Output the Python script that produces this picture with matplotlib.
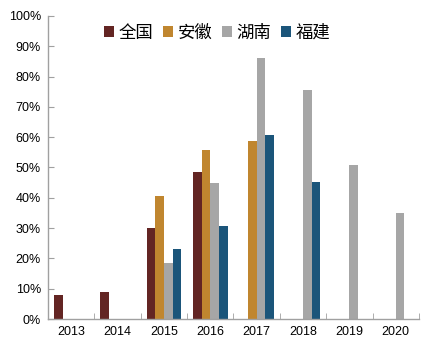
import matplotlib
matplotlib.use("Agg")
import matplotlib.pyplot as plt
import numpy as np

nan = np.nan
years = ["2013", "2014", "2015", "2016", "2017", "2018", "2019", "2020"]
series_names = ["全国", "安徽", "湖南", "福建"]
quanguo = [8, 9, 30, 48.6, nan, nan, nan, nan]
anhui = [nan, nan, 40.5, 55.8, 58.6, nan, nan, nan]
hunan = [nan, nan, 18.6, 44.8, 86, 75.5, 50.8, 34.9]
fujian = [nan, nan, 23, 30.7, 60.8, 45.1, nan, nan]
yticks = [0, 10, 20, 30, 40, 50, 60, 70, 80, 90, 100]

colors = ["#632523", "#C0862F", "#A6A6A6", "#1B557A"]

plt.rcParams['font.family'] = ['Liberation Sans', 'Noto Sans CJK SC', 'DejaVu Sans']

fig = plt.figure(figsize=(4.27, 3.46), dpi=100)
ax = fig.add_axes([0.1124, 0.078, 0.981 - 0.1124, 0.954 - 0.078])

x = np.arange(len(years))
w = 0.185
offsets = [-0.275, -0.09, 0.095, 0.28]
handles = []
for vals, off, c, name in zip([quanguo, anhui, hunan, fujian], offsets, colors, series_names):
    b = ax.bar(x + off, vals, width=w, color=c, label=name, linewidth=0)
    handles.append(b)

ax.set_xlim(-0.5, len(years) - 0.5)
ax.set_ylim(0, 100)
ax.set_yticks(yticks)
ax.set_yticklabels([f"{v}%" for v in yticks], fontsize=9)
ax.set_xticks(x)
ax.set_xticklabels(years, fontsize=9)
ax.set_xticks(np.arange(-0.5, len(years), 1), minor=True)
ax.tick_params(axis='x', which='major', length=0, pad=5)
ax.tick_params(axis='x', which='minor', length=4, direction='in', color='#A0A0A0')
ax.tick_params(axis='y', length=4, direction='in', color='#A0A0A0', pad=5)

for s in ['top', 'right']:
    ax.spines[s].set_visible(False)
for s in ['left', 'bottom']:
    ax.spines[s].set_color('#A0A0A0')
    ax.spines[s].set_linewidth(1.0)

leg = fig.legend(handles=handles, labels=series_names, loc='center',
                 bbox_to_anchor=(0.508, 0.905), ncol=4, frameon=False,
                 prop={'family': ['Noto Sans CJK SC', 'DejaVu Sans'], 'size': 12.5},
                 handlelength=0.6, handleheight=0.6, handletextpad=0.25,
                 columnspacing=0.55)

fig.savefig("out.png", dpi=100)
